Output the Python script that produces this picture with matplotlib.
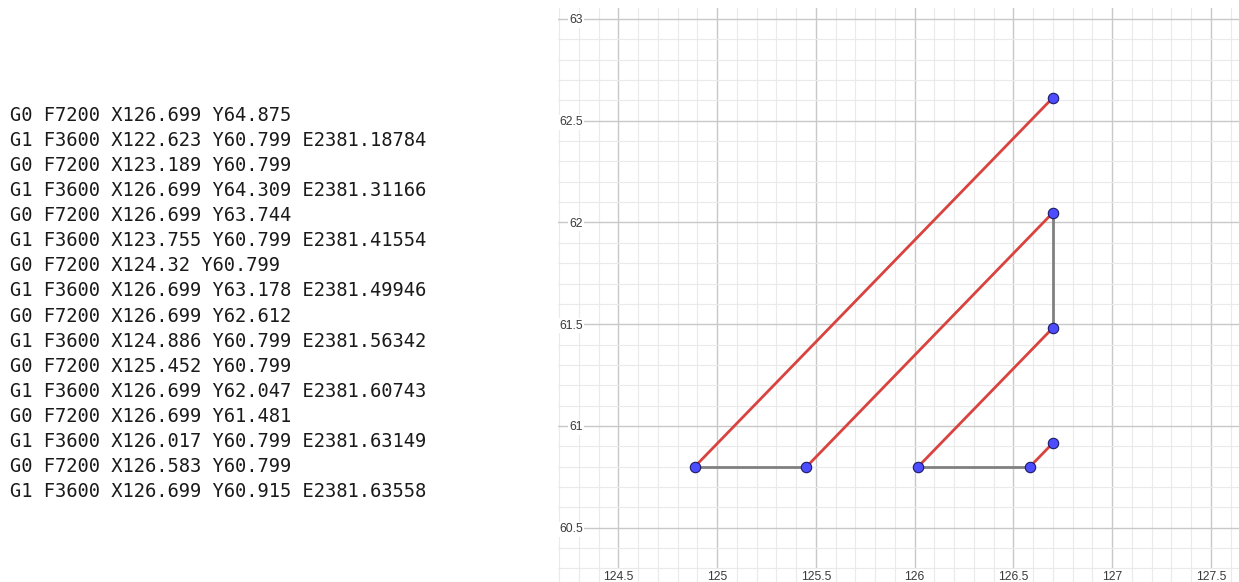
import matplotlib
matplotlib.use("Agg")
import matplotlib.pyplot as plt
from matplotlib.ticker import MultipleLocator

# G-code listing shown on the left
gcode_lines = [
    "G0 F7200 X126.699 Y64.875",
    "G1 F3600 X122.623 Y60.799 E2381.18784",
    "G0 F7200 X123.189 Y60.799",
    "G1 F3600 X126.699 Y64.309 E2381.31166",
    "G0 F7200 X126.699 Y63.744",
    "G1 F3600 X123.755 Y60.799 E2381.41554",
    "G0 F7200 X124.32 Y60.799",
    "G1 F3600 X126.699 Y63.178 E2381.49946",
    "G0 F7200 X126.699 Y62.612",
    "G1 F3600 X124.886 Y60.799 E2381.56342",
    "G0 F7200 X125.452 Y60.799",
    "G1 F3600 X126.699 Y62.047 E2381.60743",
    "G0 F7200 X126.699 Y61.481",
    "G1 F3600 X126.017 Y60.799 E2381.63149",
    "G0 F7200 X126.583 Y60.799",
    "G1 F3600 X126.699 Y60.915 E2381.63558",
]

# toolpath plotted on the right (last part of the listing)
path_x = [126.699, 124.886, 125.452, 126.699, 126.699, 126.017, 126.583, 126.699]
path_y = [62.612, 60.799, 60.799, 62.047, 61.481, 60.799, 60.799, 60.915]
seg_type = ["G1", "G0", "G1", "G0", "G1", "G0", "G1"]

xticks = [124.5, 125, 125.5, 126, 126.5, 127, 127.5]
yticks = [60.5, 61, 61.5, 62, 62.5, 63]

W, H = 1239, 582
fig = plt.figure(figsize=(W / 100, H / 100), dpi=100)

# text block
for i, line in enumerate(gcode_lines):
    fig.text(10 / W, 1 - (115.5 + i * 25.07) / H, line,
             family="DejaVu Sans Mono", fontsize=13.5, color="#1a1a1a",
             va="center", ha="left")

# plot area (extends a bit below the figure, like the cropped screenshot)
left, top, right, bottom = 558, 8, 1239, 595
ax = fig.add_axes([left / W, 1 - bottom / H, (right - left) / W, (bottom - top) / H])
ax.set_xlim(124.1945, 127.6425)
ax.set_ylim(60.1695, 63.054)

for s in ax.spines.values():
    s.set_visible(False)

ax.set_xticks(xticks)
ax.set_yticks(yticks)
ax.set_xticklabels([f"{v:g}" for v in xticks])
ax.set_yticklabels([f"{v:g}" for v in yticks])
ax.xaxis.set_minor_locator(MultipleLocator(0.1))
ax.yaxis.set_minor_locator(MultipleLocator(0.1))
ax.grid(True, which="major", color="#c8c8c8", lw=1.0)
ax.grid(True, which="minor", color="#eaeaea", lw=0.8)
ax.set_axisbelow(True)
ax.tick_params(which="both", length=0)
ax.tick_params(axis="x", pad=-17.5, labelsize=8.8, labelcolor="#3a3a3a")
ax.tick_params(axis="y", pad=-18, labelsize=8.8, labelcolor="#3a3a3a")
for lbl in ax.get_yticklabels() + ax.get_xticklabels():
    lbl.set_family("Liberation Sans")
    lbl.set_bbox(dict(facecolor="white", edgecolor="none", pad=1))

# segments: G1 = extrusion (red), G0 = travel (grey)
for i, kind in enumerate(seg_type):
    col = "#d9433f" if kind == "G1" else "#808080"
    ax.plot(path_x[i:i + 2], path_y[i:i + 2], color=col, lw=2.0,
            solid_capstyle="round", zorder=2)

ax.plot(path_x, path_y, ls="none", marker="o", ms=7.5,
        mfc="#4d4dff", mec="#1a1a66", mew=0.8, zorder=3)

fig.savefig("out.png", dpi=100)
